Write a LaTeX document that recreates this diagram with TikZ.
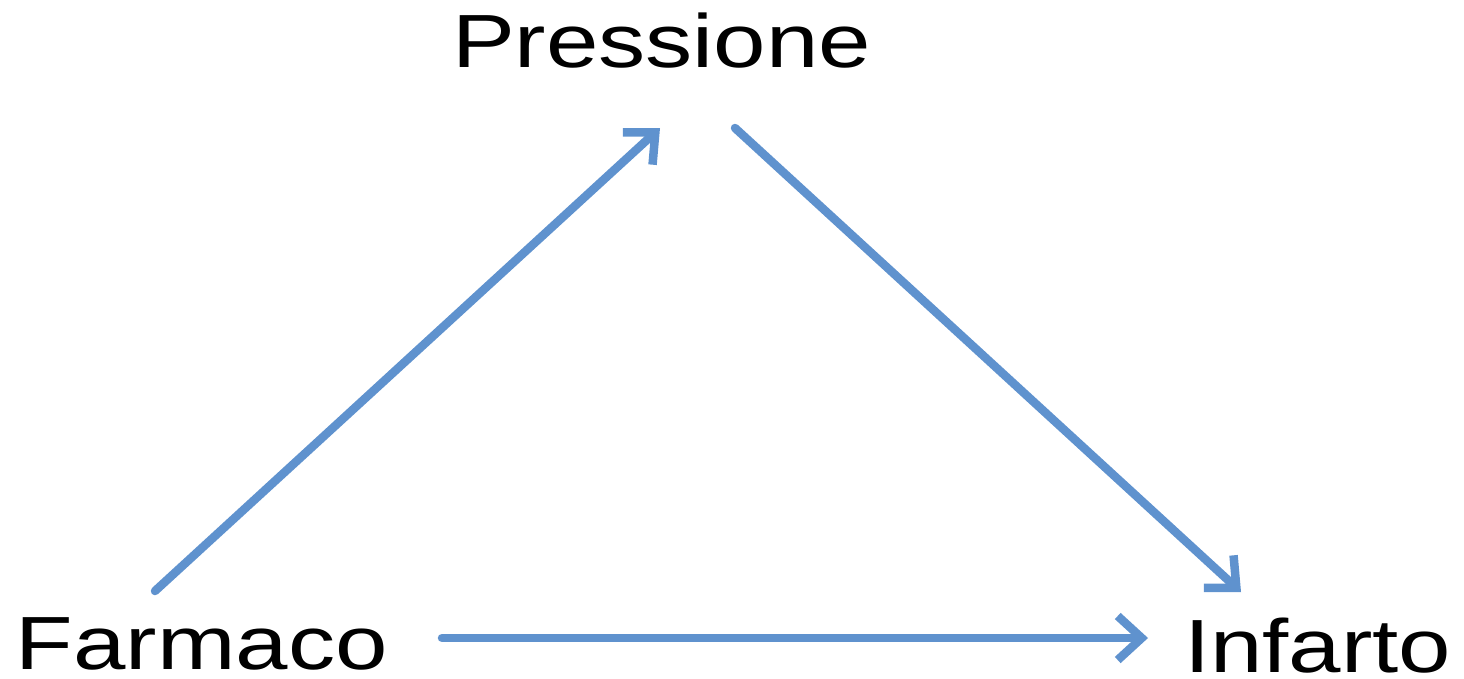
\documentclass[tikz,border=0pt]{standalone}
\usepackage{fontspec}
\setmainfont{Liberation Sans}
\usetikzlibrary{arrows.meta,calc}
\definecolor{arrowblue}{RGB}{95,146,206}
\begin{document}
\begin{tikzpicture}[x=1pt,y=-1pt,
  lbl/.style={inner sep=0pt,outer sep=0pt,anchor=base west,font=\fontsize{75.4}{90}\selectfont},
  conn/.style={draw=arrowblue,line width=8.5pt,line cap=round,
    -{Straight Barb[length=24pt,width=44pt,line width=8.5pt]}}]
\useasboundingbox (0,0) rectangle (1464,678);
\node[lbl] (p) at (452,67) {\scalebox{1.25}[1]{Pressione}};
\node[lbl] (f) at (16,669) {\scalebox{1.25}[1]{Farmaco}};
\node[lbl] (i) at (1184,672) {\scalebox{1.25}[1]{Infarto}};
\coordinate (fs) at (155,591);
\coordinate (pe) at (660,128);
\coordinate (ps) at (735,128);
\coordinate (ie) at (1241,592);
\coordinate (fr) at (442,638);
\coordinate (il) at (1148,638);
\draw[conn] (fs) -- (pe);
\draw[conn] (ps) -- (ie);
\draw[conn] (fr) -- (il);
\end{tikzpicture}
\end{document}
